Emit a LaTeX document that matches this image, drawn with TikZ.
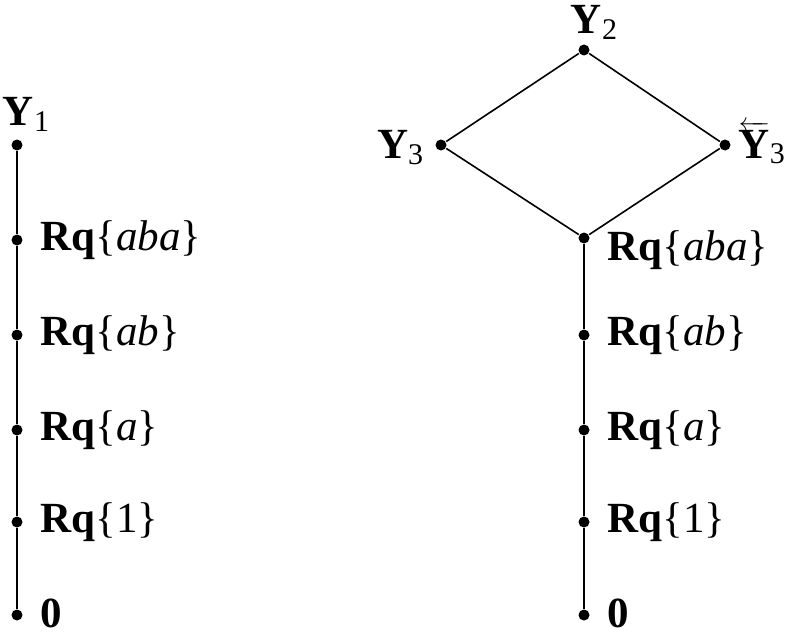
\documentclass[tikz,border=0pt]{standalone}
\usepackage{fontspec}
\setmainfont{Liberation Serif}
\usetikzlibrary{positioning}

\newcommand{\ssub}[1]{\raisebox{-0.3ex}{\fontsize{30}{32}\selectfont #1}}

\begin{document}
\begin{tikzpicture}[
            x = 1pt, y = -1pt,
            line width = 1.6pt, % line style
            font = \fontsize{43}{49}\selectfont
        ]

        \tikzstyle{elem}=[
            circle,
            fill = black,
            inner sep = 0pt,
            minimum size = 11pt
        ]
        \tikzstyle{lab}=[inner sep = 2pt]

        \useasboundingbox (0,0) rectangle (794,634);

        % left chain
        \node[elem] (l1) at (17,145) {};
        \node[elem] (l2) at (17,240) {};
        \node[elem] (l3) at (17,335) {};
        \node[elem] (l4) at (17,430) {};
        \node[elem] (l5) at (17,522) {};
        \node[elem] (l6) at (17,615) {};

        \node[lab] (ly1) at (26,114) {\textbf{Y}\ssub{1}};
        \node[lab, anchor=west] (la2) at (38,240) {\textbf{Rq}\{\textit{aba}\}};
        \node[lab, anchor=west] (la3) at (38,335) {\textbf{Rq}\{\textit{ab}\}};
        \node[lab, anchor=west] (la4) at (38,430) {\textbf{Rq}\{\textit{a}\}};
        \node[lab, anchor=west] (la5) at (38,522) {\textbf{Rq}\{1\}};
        \node[lab, anchor=west] (la6) at (38,613) {\textbf{0}};

        \draw (l1) -- (l2) -- (l3) -- (l4) -- (l5) -- (l6);

        % right lattice
        \node[elem] (top) at (584,50) {};
        \node[elem] (y3) at (441,145) {};
        \node[elem] (y3r) at (725,145) {};
        \node[elem] (r2) at (584,238) {};
        \node[elem] (r3) at (584,335) {};
        \node[elem] (r4) at (584,430) {};
        \node[elem] (r5) at (584,522) {};
        \node[elem] (r6) at (584,615) {};

        \node[lab] (ty2) at (594,22) {\textbf{Y}\ssub{2}};
        \node[lab, anchor=east] (ty3) at (426,148) {\textbf{Y}\ssub{3}};
        \node[lab, anchor=west] (ty3r) at (736,143) {$\overleftarrow{\textbf{Y}}$\ssub{3}};
        \node[lab, anchor=west] (ra2) at (605,250) {\textbf{Rq}\{\textit{aba}\}};
        \node[lab, anchor=west] (ra3) at (605,335) {\textbf{Rq}\{\textit{ab}\}};
        \node[lab, anchor=west] (ra4) at (605,430) {\textbf{Rq}\{\textit{a}\}};
        \node[lab, anchor=west] (ra5) at (605,522) {\textbf{Rq}\{1\}};
        \node[lab, anchor=west] (ra6) at (605,613) {\textbf{0}};

        \draw (top) -- (y3) -- (r2) -- (y3r) -- (top);
        \draw (r2) -- (r3) -- (r4) -- (r5) -- (r6);

    \end{tikzpicture}
\end{document}
